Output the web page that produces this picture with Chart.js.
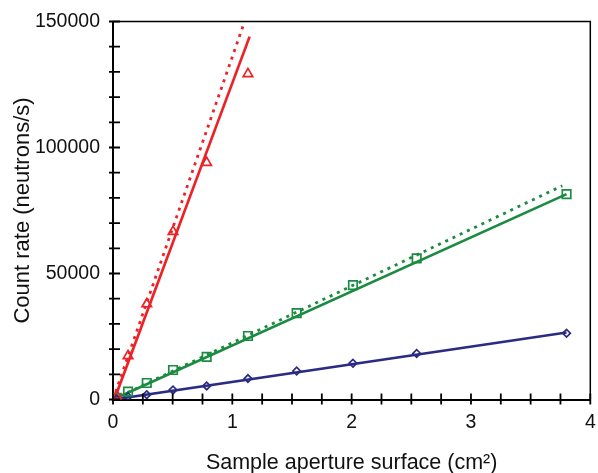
<!DOCTYPE html>
<html>
<head>
<meta charset="utf-8">
<script src="https://cdn.jsdelivr.net/npm/chart.js@4"></script>
<style>
    body { margin: 0; background: #fff; }
    canvas { display: block; }
</style>
</head>
<body>
<canvas id="countChart" width="598" height="473"></canvas>
<script>
// aperture surfaces (cm2)
const apertureArea = [0.0314, 0.126, 0.283, 0.503, 0.785, 1.131, 1.539, 2.011, 2.545, 3.801];
const blueRate = [250, 1100, 1900, 3800, 5400, 8300, 11300, 14400, 18300, 26300];
const greenRate = [700, 3100, 6550, 11700, 16900, 25200, 34300, 45400, 56000, 81500];
const redArea = [0.0314, 0.126, 0.283, 0.503, 0.785, 1.131];
const redRate = [1500, 17300, 37900, 66600, 94000, 129200];

// fitted lines (solid) and extrapolated lines (dotted)
const redFitX = [0.011, 1.145];
const redFitY = [0, 144000];
const redDotX = [0, 1.103];
const redDotY = [0, 150000];
const greenFitX = [0, 3.801];
const greenFitY = [0, 81500];
const greenDotX = [0, 3.765];
const greenDotY = [0, 84800];
const blueFitX = [0, 3.801];
const blueFitY = [0, 26600];

// axis ticks
const xMin = 0, xMax = 4, xStep = 0.25;
const yMin = 0, yMax = 150000, yStep = 10000;

const RED = '#ec2226';
const GREEN = '#1a8b40';
const BLUE = '#2c2b83';
const FONT = 'Liberation Sans, Arial, Helvetica, sans-serif';

function toPoints(xs, ys) {
    return xs.map((x, i) => ({ x: x, y: ys[i] }));
}

function markerSet(xs, ys, color, style, radius) {
    return {
        data: toPoints(xs, ys),
        showLine: false,
        pointStyle: style,
        pointRadius: radius,
        pointBorderColor: color,
        pointBackgroundColor: 'rgba(0,0,0,0)',
        pointBorderWidth: 1.7
    };
}

function lineSet(xs, ys, color, dotted) {
    return {
        data: toPoints(xs, ys),
        showLine: true,
        borderColor: color,
        borderWidth: dotted ? 2.8 : 2.7,
        borderDash: dotted ? [3, 5] : [],
        pointRadius: 0
    };
}

// ticks that cross the axis line, plus the top / right frame
const frameTicks = {
    id: 'frameTicks',
    afterDraw(chart) {
        const ctx = chart.ctx;
        const area = chart.chartArea;
        const xs = chart.scales.x;
        const ys = chart.scales.y;
        ctx.save();
        ctx.strokeStyle = '#000';
        ctx.lineWidth = 1.5;
        ctx.beginPath();
        ctx.moveTo(area.left, area.top);
        ctx.lineTo(area.right, area.top);
        ctx.lineTo(area.right, area.bottom);
        ctx.stroke();

        ctx.lineWidth = 1.8;
        ctx.beginPath();
        xs.ticks.forEach(t => {
            const px = xs.getPixelForValue(t.value);
            ctx.moveTo(px, area.bottom - 6);
            ctx.lineTo(px, area.bottom + 5);
        });
        ys.ticks.forEach(t => {
            const py = ys.getPixelForValue(t.value);
            ctx.moveTo(area.left - 4, py);
            ctx.lineTo(area.left + 7, py);
        });
        ctx.stroke();
        ctx.restore();
    }
};

new Chart(document.getElementById('countChart').getContext('2d'), {
    type: 'scatter',
    data: {
        datasets: [
            markerSet(redArea, redRate, RED, 'triangle', 5.5),
            markerSet(apertureArea, greenRate, GREEN, 'rect', 6),
            markerSet(apertureArea, blueRate, BLUE, 'rectRot', 3.8),
            lineSet(redFitX, redFitY, RED, false),
            lineSet(redDotX, redDotY, RED, true),
            lineSet(greenFitX, greenFitY, GREEN, false),
            lineSet(greenDotX, greenDotY, GREEN, true),
            lineSet(blueFitX, blueFitY, BLUE, false)
        ]
    },
    options: {
        responsive: false,
        animation: false,
        layout: { padding: { top: 21.5, right: 4, left: 0, bottom: 0 } },
        plugins: {
            legend: { display: false },
            tooltip: { enabled: false }
        },
        scales: {
            x: {
                type: 'linear',
                min: xMin,
                max: xMax,
                grid: { display: false },
                border: { display: true, color: '#000', width: 2 },
                ticks: {
                    stepSize: xStep,
                    autoSkip: false,
                    maxRotation: 0,
                    color: '#111',
                    padding: 3,
                    font: { family: FONT, size: 19.5 },
                    callback: v => Number.isInteger(v) ? v : ''
                },
                title: {
                    display: true,
                    text: 'Sample aperture surface (cm²)',
                    color: '#111',
                    font: { family: FONT, size: 21.5 },
                    padding: { top: 0, bottom: -3 }
                },
                afterFit(scale) {
                    scale.height = 73.5;
                    scale.paddingLeft = 0;
                    scale.paddingRight = 0;
                }
            },
            y: {
                type: 'linear',
                min: yMin,
                max: yMax,
                grid: { display: false },
                border: { display: true, color: '#000', width: 2 },
                ticks: {
                    stepSize: yStep,
                    autoSkip: false,
                    color: '#111',
                    padding: 5,
                    font: { family: FONT, size: 19.5 },
                    callback: v => v % 50000 === 0 ? v : ''
                },
                title: {
                    display: true,
                    text: 'Count rate (neutrons/s)',
                    color: '#111',
                    font: { family: FONT, size: 22 },
                    padding: { top: 10, bottom: 0 }
                },
                afterFit(scale) {
                    scale.width = 113;
                    scale.paddingTop = 0;
                    scale.paddingBottom = 0;
                }
            }
        }
    },
    plugins: [frameTicks]
});
</script>
</body>
</html>
